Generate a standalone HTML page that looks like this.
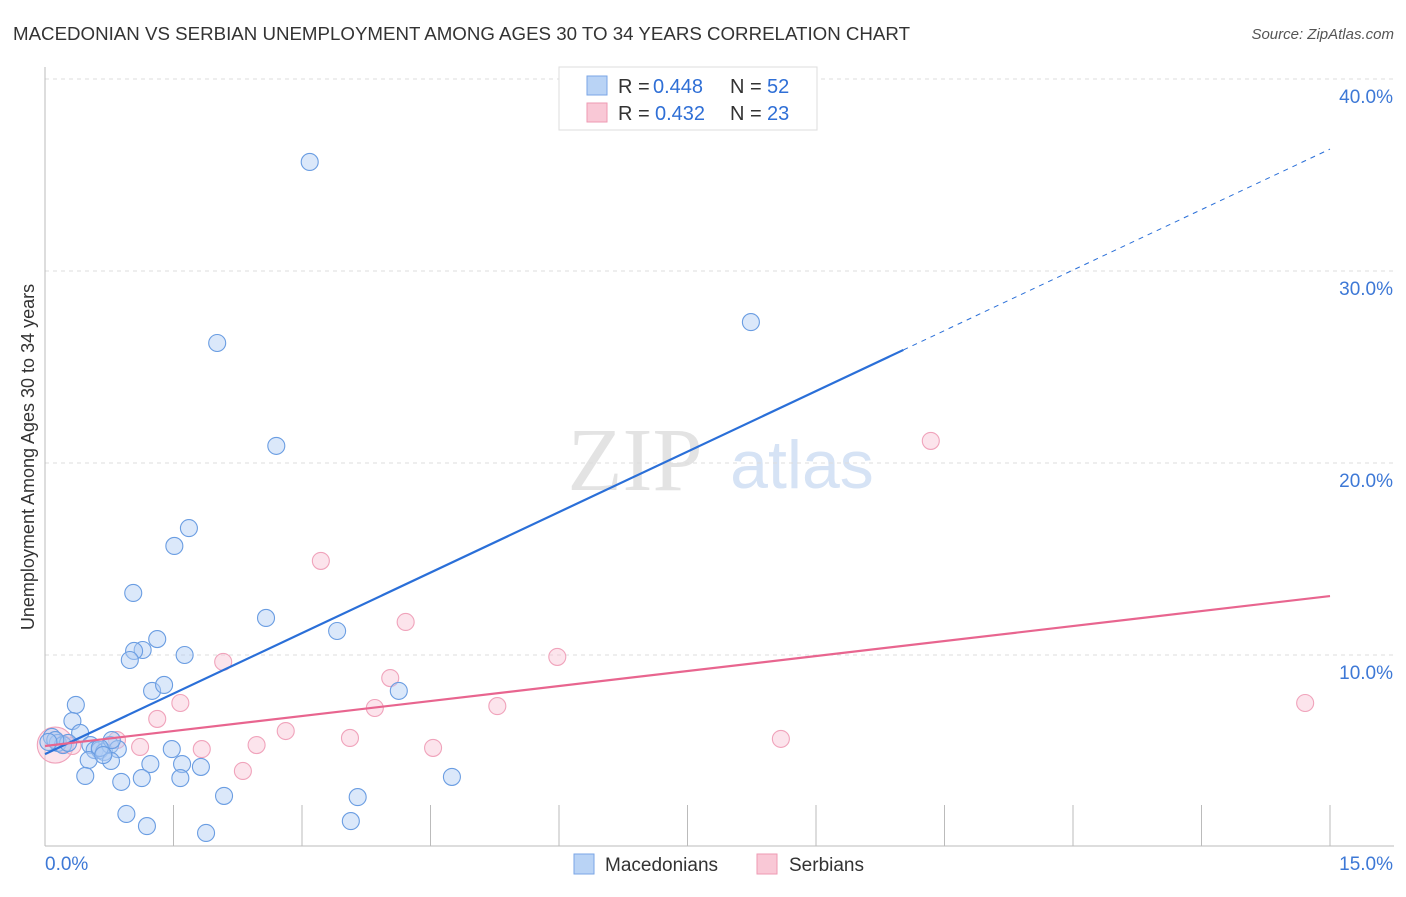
<!DOCTYPE html>
<html><head><meta charset="utf-8"><style>
body{margin:0;background:#fff;font-family:"Liberation Sans",sans-serif;}
</style></head><body>
<svg width="1406" height="892" xmlns="http://www.w3.org/2000/svg" id="chart">
<text x="13" y="40" font-size="18" fill="#333" textLength="897" lengthAdjust="spacingAndGlyphs">MACEDONIAN VS SERBIAN UNEMPLOYMENT AMONG AGES 30 TO 34 YEARS CORRELATION CHART</text>
<text x="1394" y="39" font-size="15" fill="#555" font-style="italic" text-anchor="end">Source: ZipAtlas.com</text>
<g>
<text x="635" y="490" font-size="90" font-family="Liberation Serif,serif" fill="#e3e3e3" text-anchor="middle">ZIP</text>
<text x="802" y="488" font-size="68" fill="#d6e3f5" text-anchor="middle">atlas</text>
</g>
<g id="grid"></g>
<g id="axes"></g>
<g id="pts"></g>
<g id="lines"></g>
<text transform="translate(34,457) rotate(-90)" font-size="18" fill="#333" text-anchor="middle">Unemployment Among Ages 30 to 34 years</text>
<g>
<rect x="559" y="67" width="258" height="63" fill="#fff" stroke="#ddd"/>
<rect x="587" y="76" width="20" height="19" fill="#b9d3f5" stroke="#7aa6e6"/>
<rect x="587" y="103" width="20" height="19" fill="#f9c8d6" stroke="#ee9ab3"/>
<text y="93" font-size="20" fill="#333"><tspan x="618">R =</tspan><tspan x="653" fill="#2f6fd6">0.448</tspan><tspan x="730">N =</tspan><tspan x="767" fill="#2f6fd6">52</tspan></text>
<text y="120" font-size="20" fill="#333"><tspan x="618">R =</tspan><tspan x="655" fill="#2f6fd6">0.432</tspan><tspan x="730">N =</tspan><tspan x="767" fill="#2f6fd6">23</tspan></text>
</g>
<g>
<rect x="574" y="854" width="20" height="20" fill="#b9d3f5" stroke="#7aa6e6"/>
<text x="605" y="871" font-size="19" fill="#333">Macedonians</text>
<rect x="757" y="854" width="20" height="20" fill="#f9c8d6" stroke="#ee9ab3"/>
<text x="789" y="871" font-size="19" fill="#333">Serbians</text>
</g>
</svg>
<script>
const xTicks=[0,1.5,3,4.5,6,7.5,9,10.5,12,13.5,15];
const yTicks=[10,20,30,40];
const yTickLabels=["10.0%","20.0%","30.0%","40.0%"];
const macX=[3.09,2.01,8.24,2.70,1.68,1.51,1.03,2.58,3.41,1.31,1.14,1.04,0.99,1.63,1.25,1.39,4.13,0.36,0.32,0.41,0.08,0.15,0.21,0.27,0.53,0.58,0.64,0.69,0.76,0.85,0.78,0.51,0.77,1.23,1.60,1.82,1.48,0.47,1.13,1.58,0.89,4.75,2.09,3.65,0.95,3.57,1.19,1.88,0.12,0.04,0.64,0.68];
const macY=[35.68,26.25,27.34,20.89,16.61,15.68,13.23,11.93,11.25,10.83,10.26,10.21,9.74,10.0,8.13,8.44,8.13,7.40,6.56,5.94,5.73,5.42,5.31,5.42,5.31,5.05,5.05,4.95,5.31,5.10,5.57,4.53,4.48,4.32,4.32,4.17,5.10,3.70,3.59,3.59,3.39,3.65,2.66,2.60,1.72,1.35,1.09,0.73,5.57,5.47,5.16,4.79];
const serX=[3.22,10.34,4.21,5.98,2.08,4.03,1.58,5.28,14.71,1.31,3.85,2.81,3.56,8.59,0.84,4.53,2.47,1.83,1.11,2.31,0.12,0.32,0.21];
const serY=[14.90,21.15,11.72,9.90,9.64,8.80,7.50,7.34,7.50,6.67,7.24,6.04,5.68,5.63,5.57,5.16,5.31,5.10,5.21,3.96,5.31,5.26,5.36];
const macTrend=[4.84,36.35];
const macSolidEnd=[10.02];
const serTrend=[5.26,13.07];
const X=v=>45+v/15*1285, Y=v=>847-v*19.2;
const NS="http://www.w3.org/2000/svg";
function mk(p,t,a){const e=document.createElementNS(NS,t);for(const k in a)e.setAttribute(k,a[k]);document.getElementById(p).appendChild(e);return e;}
yTicks.forEach((v,i)=>{
 const l=mk('grid','line',{x1:45,x2:1394,y1:Y(v),y2:Y(v),stroke:'#ddd','stroke-dasharray':'4,4'});
 
 
 const t=mk('grid','text',{x:1393,y:Y(v)+24,'font-size':19,fill:'#3d78d6','text-anchor':'end'});t.textContent=yTickLabels[i];
 
 
});
mk('axes','line',{x1:45,x2:45,y1:67,y2:846,stroke:'#bbb'});
mk('axes','line',{x1:45,x2:1394,y1:846,y2:846,stroke:'#bbb'});
xTicks.forEach(v=>{const l=mk('axes','line',{x1:X(v),x2:X(v),y1:805,y2:846,stroke:'#bbb'});
 
 });
let t=mk('axes','text',{x:45,y:870,'font-size':19,fill:'#3d78d6'});t.textContent="0.0%";


t=mk('axes','text',{x:1393,y:870,'font-size':19,fill:'#3d78d6','text-anchor':'end'});t.textContent="15.0%";


serX.forEach((x,i)=>{const c=mk('pts','circle',{cx:X(x),cy:Y(serY[i]),r:i==20?18:8.5,fill:'rgba(249,195,212,0.45)',stroke:'#f0a3bb','stroke-width':1.1});
 
 });
macX.forEach((x,i)=>{const c=mk('pts','circle',{cx:X(x),cy:Y(macY[i]),r:8.5,fill:'rgba(175,204,243,0.45)',stroke:'#6a9de2','stroke-width':1.1});
 
 });
const my=x=>macTrend[0]+(macTrend[1]-macTrend[0])*x/15;
let l=mk('lines','line',{x1:X(0),y1:Y(my(0)),x2:X(macSolidEnd[0]),y2:Y(my(macSolidEnd[0])),stroke:'#2a6fd8','stroke-width':2.2});


l=mk('lines','line',{x1:X(macSolidEnd[0]),y1:Y(my(macSolidEnd[0])),x2:X(15),y2:Y(my(15)),stroke:'#2a6fd8','stroke-width':1,'stroke-dasharray':'5,5'});


l=mk('lines','line',{x1:X(0),y1:Y(serTrend[0]),x2:X(15),y2:Y(serTrend[1]),stroke:'#e8658f','stroke-width':2.2});


</script>
</body></html>
